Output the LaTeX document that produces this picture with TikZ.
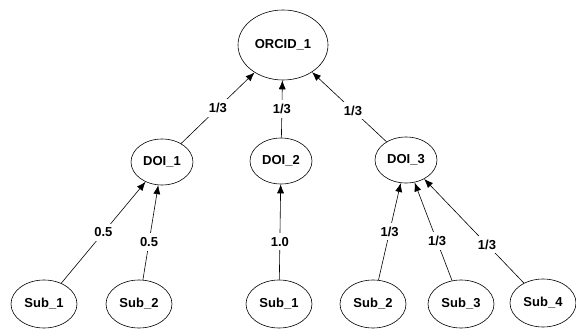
\documentclass[tikz,border=0pt]{standalone}
\usepackage{fontspec}
\setmainfont{Liberation Sans}
\usetikzlibrary{arrows.meta,shapes}
\tikzset{
    root/.style = {draw, ellipse, minimum width=90pt,
        minimum height=70pt, inner sep=0pt},
    doc/.style = {draw, ellipse, minimum width=62pt,
        minimum height=46pt, inner sep=0pt},
    leaf/.style = {draw, ellipse, minimum width=66pt,
        minimum height=48pt, inner sep=0pt},
    weight/.style = {fill=white, inner sep=4pt}
}
\begin{document}
\begin{tikzpicture}[x=1pt, y=-1pt, >={Latex[length=9pt,width=7pt]}, line width=0.6pt,
    every node/.style={font=\fontsize{13}{15}\selectfont\bfseries}]
        \useasboundingbox (0,0) rectangle (576,329);
        % top level
        \node [root, name=orcid] at (283,45) {ORCID\_1};
        % documents
        \node [doc, name=doiA] at (162,162) {DOI\_1};
        \node [doc, name=doiB] at (281,161) {DOI\_2};
        \node [doc, name=doiC] at (406,160) {DOI\_3};
        \draw [->] (doiA) -- node [weight] {1/3} (orcid);
        \draw [->] (doiB) -- node [weight] {1/3} (orcid);
        \draw [->] (doiC) -- node [weight, pos=.45] {1/3} (orcid);
        % subjects
        \node [leaf, name=subA] at (44,304) {Sub\_1};
        \node [leaf, name=subB] at (139,304) {Sub\_2};
        \node [leaf, name=subC] at (279,304) {Sub\_1};
        \node [leaf, name=subD] at (373,304) {Sub\_2};
        \node [leaf, name=subE] at (461,304) {Sub\_3};
        \node [leaf, name=subF] at (543,303) {Sub\_4};
        \draw [->] (subA) -- node [weight] {0.5} (doiA);
        \draw [->] (subB) -- node [weight, pos=.4] {0.5} (doiA);
        \draw [->] (subC) -- node [weight, pos=.4] {1.0} (doiB);
        \draw [->] (subD) -- node [weight] {1/3} (doiC);
        \draw [->] (subE) -- node [weight, pos=.4] {1/3} (doiC);
        \draw [->] (subF) -- node [weight, pos=.37] {1/3} (doiC);
\end{tikzpicture}
\end{document}
